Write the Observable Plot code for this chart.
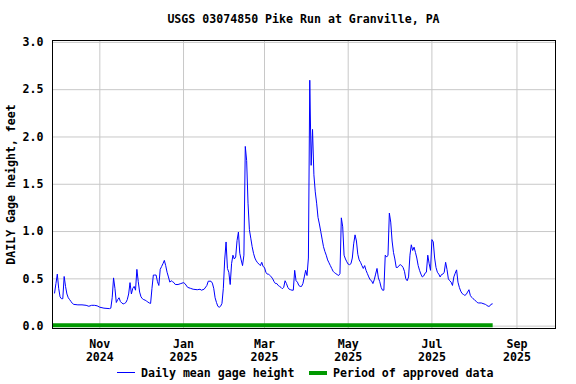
<!DOCTYPE html>
<html><head><meta charset="utf-8">
<script src="https://cdn.jsdelivr.net/npm/d3@7"></script>
<script src="https://cdn.jsdelivr.net/npm/@observablehq/plot@0.6"></script>
<style>
body{margin:0;background:#fff;}
#wrap{position:relative;width:576px;height:384px;font-family:"DejaVu Sans Mono",monospace;font-weight:bold;font-size:11.6px;color:#000;overflow:hidden;}
#title{position:absolute;left:52px;width:503px;top:12px;text-align:center;line-height:14px;white-space:pre;}
#chart{position:absolute;left:0;top:30px;}
.lg{position:absolute;}
.lt{position:absolute;top:365px;line-height:16px;white-space:pre;}
</style>
</head><body>
<div id="wrap">
<div id="title"></div>
<div id="chart"></div>
<div class="lg" style="left:117px;top:372px;width:18px;height:1.4px;background:#0000ff"></div>
<div class="lt" id="lg1" style="left:141px"></div>
<div class="lg" style="left:309px;top:371px;width:18px;height:4px;background:#009900"></div>
<div class="lt" id="lg2" style="left:333px"></div>
</div>
<script>
const titleText = "USGS 03074850 Pike Run at Granville, PA";
const yLabel = "DAILY Gage height, feet";
const legendLabels = ["Daily mean gage height", "Period of approved data"];
const xTicks = ["2024-11-01","2025-01-01","2025-03-01","2025-05-01","2025-07-01","2025-09-01"];
const yTicks = [0, 0.5, 1.0, 1.5, 2.0, 2.5, 3.0];
const xDomain = ["2024-09-27T12:00Z", "2025-09-29T02:00Z"];
const approvedPeriod = ["2024-09-27T12:00Z", "2025-08-14T16:00Z"];

const dates = [
"2024-09-29","2024-09-30","2024-10-01","2024-10-02","2024-10-03","2024-10-04","2024-10-05","2024-10-06","2024-10-07","2024-10-08",
"2024-10-09","2024-10-10","2024-10-11","2024-10-12","2024-10-13","2024-10-16","2024-10-19","2024-10-22","2024-10-24","2024-10-26",
"2024-10-28","2024-10-30","2024-11-01","2024-11-04","2024-11-08","2024-11-09","2024-11-10","2024-11-11","2024-11-12","2024-11-13",
"2024-11-14","2024-11-15","2024-11-16","2024-11-17","2024-11-18","2024-11-19","2024-11-20","2024-11-21","2024-11-22","2024-11-23",
"2024-11-24","2024-11-25","2024-11-26","2024-11-27","2024-11-28","2024-11-29","2024-11-30","2024-12-01","2024-12-02","2024-12-03",
"2024-12-04","2024-12-05","2024-12-06","2024-12-07","2024-12-08","2024-12-09","2024-12-10","2024-12-11","2024-12-12","2024-12-13",
"2024-12-14","2024-12-15","2024-12-16","2024-12-17","2024-12-18","2024-12-19","2024-12-20","2024-12-21","2024-12-22","2024-12-23",
"2024-12-24","2024-12-25","2024-12-26","2024-12-28","2024-12-30","2025-01-01","2025-01-02","2025-01-04","2025-01-06","2025-01-08",
"2025-01-11","2025-01-13","2025-01-14","2025-01-16","2025-01-18","2025-01-19","2025-01-21","2025-01-22","2025-01-23","2025-01-24",
"2025-01-25","2025-01-26","2025-01-27","2025-01-28","2025-01-29","2025-01-30","2025-01-31","2025-02-01","2025-02-02","2025-02-03",
"2025-02-04","2025-02-05","2025-02-06","2025-02-07","2025-02-08","2025-02-09","2025-02-10","2025-02-11","2025-02-12","2025-02-13",
"2025-02-14","2025-02-15","2025-02-16","2025-02-17","2025-02-18","2025-02-19","2025-02-20","2025-02-21","2025-02-22","2025-02-23",
"2025-02-24","2025-02-25","2025-02-26","2025-02-27","2025-02-28","2025-03-01","2025-03-02","2025-03-03","2025-03-04","2025-03-05",
"2025-03-06","2025-03-07","2025-03-08","2025-03-09","2025-03-10","2025-03-11","2025-03-12","2025-03-13","2025-03-14","2025-03-15",
"2025-03-16","2025-03-17","2025-03-18","2025-03-19","2025-03-20","2025-03-21","2025-03-22","2025-03-23","2025-03-24","2025-03-25",
"2025-03-26","2025-03-27","2025-03-28","2025-03-29","2025-03-30","2025-03-31","2025-04-01","2025-04-02","2025-04-03","2025-04-04",
"2025-04-05","2025-04-06","2025-04-07","2025-04-08","2025-04-09","2025-04-10","2025-04-11","2025-04-12","2025-04-13","2025-04-14",
"2025-04-15","2025-04-16","2025-04-17","2025-04-18","2025-04-19","2025-04-20","2025-04-21","2025-04-22","2025-04-23","2025-04-24",
"2025-04-25","2025-04-26","2025-04-27","2025-04-28","2025-04-29","2025-04-30","2025-05-01","2025-05-02","2025-05-03","2025-05-04",
"2025-05-05","2025-05-06","2025-05-07","2025-05-08","2025-05-09","2025-05-10","2025-05-11","2025-05-12","2025-05-13","2025-05-14",
"2025-05-15","2025-05-16","2025-05-17","2025-05-18","2025-05-19","2025-05-20","2025-05-21","2025-05-22","2025-05-23","2025-05-24",
"2025-05-25","2025-05-26","2025-05-27","2025-05-28","2025-05-29","2025-05-30","2025-05-31","2025-06-01","2025-06-02","2025-06-03",
"2025-06-04","2025-06-05","2025-06-06","2025-06-07","2025-06-08","2025-06-09","2025-06-10","2025-06-11","2025-06-12","2025-06-13",
"2025-06-14","2025-06-15","2025-06-16","2025-06-17","2025-06-18","2025-06-19","2025-06-20","2025-06-21","2025-06-22","2025-06-23",
"2025-06-24","2025-06-25","2025-06-26","2025-06-27","2025-06-28","2025-06-29","2025-06-30","2025-07-01","2025-07-02","2025-07-03",
"2025-07-04","2025-07-05","2025-07-06","2025-07-07","2025-07-08","2025-07-09","2025-07-10","2025-07-11","2025-07-12","2025-07-13",
"2025-07-14","2025-07-15","2025-07-16","2025-07-17","2025-07-18","2025-07-19","2025-07-20","2025-07-21","2025-07-22","2025-07-23",
"2025-07-24","2025-07-25","2025-07-26","2025-07-27","2025-07-28","2025-07-29","2025-07-30","2025-07-31","2025-08-01","2025-08-02",
"2025-08-03","2025-08-04","2025-08-06","2025-08-08","2025-08-09","2025-08-10","2025-08-11","2025-08-12","2025-08-13","2025-08-14"
];
const heights = [
0.35,0.45,0.55,0.40,0.31,0.29,0.29,0.525,0.42,0.34,
0.30,0.28,0.26,0.24,0.23,0.225,0.225,0.22,0.21,0.22,
0.22,0.215,0.20,0.19,0.185,0.19,0.30,0.51,0.40,0.25,
0.28,0.30,0.26,0.245,0.235,0.24,0.25,0.28,0.34,0.46,
0.34,0.40,0.42,0.38,0.60,0.47,0.36,0.31,0.29,0.28,
0.275,0.265,0.255,0.245,0.24,0.40,0.54,0.54,0.54,0.47,
0.43,0.60,0.63,0.66,0.695,0.64,0.57,0.52,0.465,0.48,
0.47,0.46,0.44,0.44,0.45,0.46,0.45,0.41,0.40,0.39,
0.385,0.39,0.38,0.39,0.43,0.475,0.475,0.455,0.40,0.30,
0.25,0.21,0.20,0.21,0.24,0.40,0.70,0.89,0.61,0.57,
0.44,0.66,0.75,0.71,0.73,0.905,0.995,0.77,0.70,0.64,
0.75,1.90,1.75,1.30,1.02,0.93,0.84,0.77,0.72,0.69,
0.67,0.655,0.64,0.675,0.63,0.62,0.57,0.55,0.55,0.535,
0.52,0.50,0.47,0.45,0.45,0.43,0.42,0.41,0.395,0.41,
0.48,0.45,0.41,0.39,0.385,0.38,0.38,0.59,0.48,0.465,
0.43,0.42,0.42,0.45,0.52,0.59,0.535,0.72,2.60,1.70,
2.08,1.60,1.42,1.30,1.15,1.08,1.00,0.92,0.84,0.79,
0.75,0.70,0.67,0.64,0.61,0.58,0.565,0.555,0.545,0.535,
0.555,1.145,1.05,0.75,0.71,0.68,0.655,0.65,0.66,0.72,
0.87,0.965,0.90,0.76,0.70,0.675,0.64,0.61,0.64,0.59,
0.555,0.52,0.49,0.48,0.45,0.49,0.55,0.61,0.51,0.47,
0.41,0.38,0.38,0.75,0.73,0.75,1.195,1.10,0.90,0.78,
0.71,0.62,0.62,0.64,0.65,0.64,0.62,0.58,0.50,0.48,
0.52,0.75,0.86,0.80,0.835,0.78,0.72,0.64,0.59,0.55,
0.52,0.53,0.56,0.57,0.75,0.66,0.59,0.915,0.89,0.72,
0.62,0.57,0.55,0.52,0.545,0.55,0.57,0.675,0.60,0.50,
0.48,0.465,0.43,0.52,0.56,0.595,0.465,0.41,0.37,0.345,
0.335,0.325,0.335,0.36,0.385,0.325,0.305,0.29,0.28,0.265,
0.25,0.245,0.245,0.235,0.23,0.22,0.21,0.21,0.23,0.235
];

document.getElementById("title").textContent = titleText;
document.getElementById("lg1").textContent = legendLabels[0];
document.getElementById("lg2").textContent = legendLabels[1];

const parse = s => new Date(s.length === 10 ? s + "T00:00:00Z" : s);
const data = dates.map((d, i) => ({date: parse(d), value: heights[i]}));
const tickDates = xTicks.map(parse);
const approved = [{x1: parse(approvedPeriod[0]), x2: parse(approvedPeriod[1]), y: 0}];
const fmt = d3.utcFormat("%b\n%Y");

const chart = Plot.plot({
  width: 576, height: 334,
  marginTop: 10, marginBottom: 36, marginLeft: 52, marginRight: 21,
  style: {fontFamily: "DejaVu Sans Mono", fontSize: "11.6px", fontWeight: "bold", background: "white", color: "black"},
  x: {type: "utc", domain: xDomain.map(parse)},
  y: {domain: [-0.025, 3.02]},
  marks: [
    Plot.gridX(tickDates, {stroke: "#c8c8c8", strokeOpacity: 1}),
    Plot.gridY(yTicks, {stroke: "#c8c8c8", strokeOpacity: 1}),
    Plot.ruleY(approved, {x1: "x1", x2: "x2", y: "y", stroke: "#009900", strokeWidth: 4, dy: -1}),
    Plot.line(data, {x: "date", y: "value", stroke: "#0000ff", strokeWidth: 1}),
    Plot.frame({stroke: "black"}),
    Plot.axisX(tickDates, {tickSize: 0, tickPadding: 10, lineHeight: 1.12, tickFormat: fmt, label: null}),
    Plot.axisY(yTicks, {tickSize: 0, tickPadding: 9, tickFormat: d => d.toFixed(1), label: yLabel, labelAnchor: "center", labelArrow: "none", labelOffset: 46})
  ]
});
document.getElementById("chart").appendChild(chart);
</script>
</body></html>
